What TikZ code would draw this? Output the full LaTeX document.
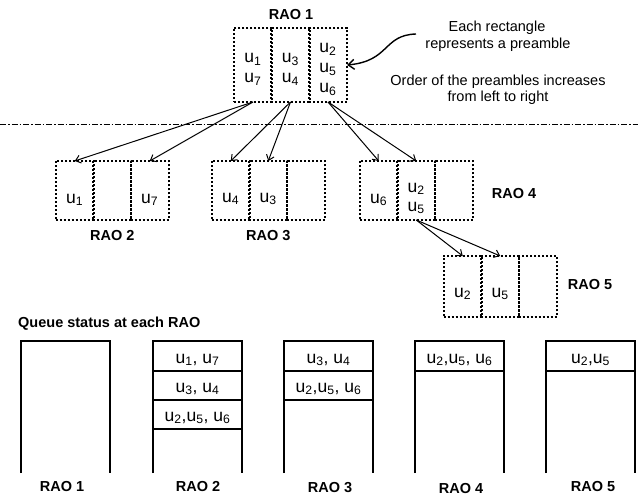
\documentclass[tikz,border=0pt]{standalone}
\usepackage{fontspec}
\setmainfont{Liberation Sans}
\usetikzlibrary{arrows.meta}
\begin{document}
\begin{tikzpicture}[x=1pt,y=-1pt,
  cell/.style={draw, line width=2pt, dash pattern=on 2pt off 2pt, minimum width=38.3pt, inner sep=0pt, outer sep=0pt},
  utext/.style={font=\fontsize{17.5}{20}\selectfont, anchor=base, inner sep=0pt},
  lbl/.style={font=\fontsize{14.5}{17}\selectfont\bfseries, anchor=base, inner sep=0pt},
  note/.style={font=\fontsize{14.5}{17}\selectfont, anchor=base, inner sep=0pt},
  arr/.style={-{Straight Barb[length=5pt,width=8pt]}, line width=1pt},
  qline/.style={line width=2pt},
  sep/.style={line width=1pt, dash pattern=on 6pt off 2pt on 1.5pt off 2pt}]
\useasboundingbox (0,0) rectangle (638,495);

% ---------- RAO 1 ----------
\node[lbl] (l1) at (291,20) {RAO 1};
\foreach \n/\x in {a/253,b/290.5,c/328}
  \node[cell, minimum height=74pt] (r1\n) at (\x,65) {};
\node[utext] (t1) at (253,63) {u\textsubscript{1}};
\node[utext] (t2) at (253,83) {u\textsubscript{7}};
\node[utext] (t3) at (290.5,63) {u\textsubscript{3}};
\node[utext] (t4) at (290.5,83) {u\textsubscript{4}};
\node[utext] (t5) at (328,53) {u\textsubscript{2}};
\node[utext] (t6) at (328,72.5) {u\textsubscript{5}};
\node[utext] (t7) at (328,92.5) {u\textsubscript{6}};

% notes
\node[note] (n1) at (497,32) {Each rectangle};
\node[note] (n2) at (498,48.5) {represents a preamble};
\node[note] (n3) at (498,86) {Order of the preambles increases};
\node[note] (n4) at (498,102) {from left to right};
\coordinate (cs) at (416,34);
\draw[line width=1.4pt, -{Straight Barb[length=6pt,width=10pt]}] (cs) .. controls (383,35) and (390,61) .. (r1c.east);

% separator
\coordinate (s1) at (0,124.5);
\coordinate (s2) at (638,124.5);
\draw[sep] (s1) -- (s2);

% ---------- RAO 2 ----------
\foreach \n/\x in {a/74.75,b/112.25,c/149.75}
  \node[cell, minimum height=59pt] (r2\n) at (\x,190.5) {};
\node[utext] (t8) at (74.75,203) {u\textsubscript{1}};
\node[utext] (t9) at (149.75,203) {u\textsubscript{7}};
\node[lbl] (l2) at (112.25,240) {RAO 2};

% ---------- RAO 3 ----------
\foreach \n/\x in {a/230.75,b/268.25,c/305.75}
  \node[cell, minimum height=59pt] (r3\n) at (\x,190.5) {};
\node[utext] (t10) at (230.75,202) {u\textsubscript{4}};
\node[utext] (t11) at (268.25,202) {u\textsubscript{3}};
\node[lbl] (l3) at (268.25,240) {RAO 3};

% ---------- RAO 4 ----------
\foreach \n/\x in {a/378.75,b/416.25,c/453.75}
  \node[cell, minimum height=59pt] (r4\n) at (\x,190.5) {};
\node[utext] (t12) at (378.75,203) {u\textsubscript{6}};
\node[utext] (t13) at (416.25,192) {u\textsubscript{2}};
\node[utext] (t14) at (416.25,211) {u\textsubscript{5}};
\node[lbl] (l4) at (514,198) {RAO 4};

% ---------- RAO 5 ----------
\foreach \n/\x in {a/462.75,b/500.25,c/537.75}
  \node[cell, minimum height=61pt] (r5\n) at (\x,286.5) {};
\node[utext] (t15) at (462.75,297) {u\textsubscript{2}};
\node[utext] (t16) at (500.25,297) {u\textsubscript{5}};
\node[lbl] (l5) at (590,289) {RAO 5};

% arrows
\draw[arr] (r1a.south) -- (r2a.north);
\draw[arr] (r1a.south) -- (r2c.north);
\draw[arr] (r1b.south) -- (r3a.north);
\draw[arr] (r1b.south) -- (r3b.north);
\draw[arr] (r1c.south) -- (r4a.north);
\draw[arr] (r1c.south) -- (r4b.north);
\draw[arr] (r4b.south) -- (r5a.north);
\draw[arr] (r4b.south) -- (r5b.north);

% ---------- Queue status ----------
\node[lbl, anchor=base west] (qs) at (18,327) {Queue status at each RAO};

% columns
\draw[qline] (21,473) -- (21,341) -- (110,341) -- (110,473);
\draw[qline] (153,473) -- (153,341) -- (242,341) -- (242,473);
\draw[qline] (153,370.5) -- (242,370.5);
\draw[qline] (153,399.5) -- (242,399.5);
\draw[qline] (153,428.5) -- (242,428.5);
\draw[qline] (284,473) -- (284,341) -- (373,341) -- (373,473);
\draw[qline] (284,370.5) -- (373,370.5);
\draw[qline] (284,399.5) -- (373,399.5);
\draw[qline] (415,473) -- (415,341) -- (504,341) -- (504,473);
\draw[qline] (415,370.5) -- (504,370.5);
\draw[qline] (546,473) -- (546,341) -- (635,341) -- (635,473);
\draw[qline] (546,370.5) -- (635,370.5);

\node[utext] (q1) at (197.5,363) {u\textsubscript{1}, u\textsubscript{7}};
\node[utext] (q2) at (197.5,392) {u\textsubscript{3}, u\textsubscript{4}};
\node[utext] (q3) at (197.5,421) {u\textsubscript{2},u\textsubscript{5}, u\textsubscript{6}};
\node[utext] (q4) at (328.5,363) {u\textsubscript{3}, u\textsubscript{4}};
\node[utext] (q5) at (328.5,392) {u\textsubscript{2},u\textsubscript{5}, u\textsubscript{6}};
\node[utext] (q6) at (459.5,363) {u\textsubscript{2},u\textsubscript{5}, u\textsubscript{6}};
\node[utext] (q7) at (590.5,363) {u\textsubscript{2},u\textsubscript{5}};

\node[lbl] (b1) at (62,491) {RAO 1};
\node[lbl] (b2) at (198,491) {RAO 2};
\node[lbl] (b3) at (330,492) {RAO 3};
\node[lbl] (b4) at (461,493) {RAO 4};
\node[lbl] (b5) at (593,491) {RAO 5};
\end{tikzpicture}
\end{document}
